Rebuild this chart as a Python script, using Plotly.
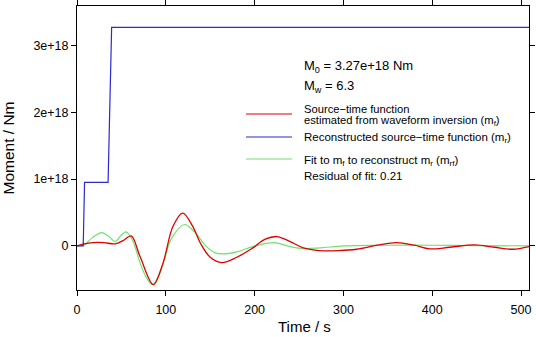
import plotly.graph_objects as go

# ---- data ----
blue_t = [0, 7, 8.5, 35, 39, 509]
blue_m = [0, 0, 0.95e18, 0.95e18, 3.27e18, 3.27e18]

red_t = [0, 8, 18, 30, 43, 52, 61, 71, 86, 97, 108, 119, 130, 139, 150, 163, 180, 198, 212,
         225, 240, 255, 273, 295, 315, 338, 360, 380, 397, 420, 448, 470, 491, 509]
red_m = [0, 0.03e18, 0.05e18, 0.05e18, 0.03e18, 0.08e18, 0.15e18, -0.16e18, -0.58e18, -0.25e18,
         0.29e18, 0.49e18, 0.3e18, 0.04e18, -0.17e18, -0.25e18, -0.17e18, -0.03e18, 0.1e18,
         0.14e18, 0.065e18, -0.03e18, -0.07e18, -0.07e18, -0.05e18, 0.01e18, 0.05e18, 0.01e18,
         -0.045e18, -0.02e18, 0.015e18, -0.02e18, -0.05e18, -0.01e18]

green_t = [0, 8, 17, 28, 36, 43, 49, 55, 62, 71, 78, 85, 95, 106, 121, 133, 145, 155, 165, 180,
           198, 221, 240, 255, 274, 300, 340, 400, 450, 509]
green_m = [0, 0.01e18, 0.12e18, 0.2e18, 0.14e18, 0.065e18, 0.15e18, 0.21e18, 0.1e18, -0.25e18,
           -0.47e18, -0.58e18, -0.35e18, 0.1e18, 0.32e18, 0.2e18, 0.0, -0.1e18, -0.12e18,
           -0.09e18, -0.01e18, 0.05e18, -0.01e18, -0.04e18, -0.03e18, 0.0, 0.01e18, 0.01e18,
           0.005e18, 0.0]

x_ticks = [0, 100, 200, 300, 400, 500]
y_ticks = [0, 1e18, 2e18, 3e18]
y_tick_labels = ["0", "1e+18", "2e+18", "3e+18"]

RED = "#e00000"
BLUE = "#2a2ad0"
GREEN = "#70e070"

fig = go.Figure()
fig.add_trace(go.Scatter(x=green_t, y=green_m, mode="lines", line=dict(color=GREEN, width=1.2, shape="spline", smoothing=1)))
fig.add_trace(go.Scatter(x=red_t, y=red_m, mode="lines", line=dict(color=RED, width=1.3, shape="spline", smoothing=1)))
fig.add_trace(go.Scatter(x=blue_t, y=blue_m, mode="lines", line=dict(color=BLUE, width=1.2)))

W, H = 536, 337
L, R, T, B = 77, 7, 6, 47
pw, ph = W - L - R, H - T - B

def px(x):
    return (x - L) / pw

def py(y):
    return (H - B - y) / ph

font = dict(family="Liberation Sans, Arial, sans-serif", color="black")

texts = [
    (302, 66, "M<sub>0</sub> = 3.27e+18 Nm", 13),
    (302, 87, "M<sub>w</sub> = 6.3", 13),
    (302, 108.8, "Source\u2212time function", 11.2),
    (302, 121.2, "estimated from waveform inversion (m<sub>f</sub>)", 11.2),
    (302, 138, "Reconstructed source\u2212time function (m<sub>r</sub>)", 11.5),
    (302, 161, "Fit to m<sub>f</sub> to reconstruct m<sub>r</sub> (m<sub>rf</sub>)", 11.5),
    (302, 176.5, "Residual of fit: 0.21", 11.5),
]
for x, y, t, s in texts:
    fig.add_annotation(x=px(x), y=py(y), xref="paper", yref="paper", text=t, showarrow=False,
                       xanchor="left", yanchor="middle", font=dict(size=s, **font))

# x-axis title
fig.add_annotation(x=px(304.5), y=py(337), xref="paper", yref="paper", text="Time / s", showarrow=False,
                   xanchor="center", yanchor="bottom", font=dict(size=15, **font))

for y, c in [(114, RED), (137, BLUE), (159, GREEN)]:
    fig.add_shape(type="line", xref="paper", yref="paper", x0=px(246), x1=px(292), y0=py(y), y1=py(y),
                  line=dict(color=c, width=1.2))

axis_common = dict(showline=True, linecolor="black", linewidth=1, mirror="ticks", ticks="outside",
                   ticklen=5, tickcolor="black", showgrid=False, zeroline=False, automargin=False,
                   tickfont=dict(size=12.5, **font))

fig.update_layout(
    width=W, height=H, margin=dict(l=L, r=R, t=T, b=B),
    paper_bgcolor="white", plot_bgcolor="white", showlegend=False,
    font=font,
    xaxis=dict(range=[0, 509], tickvals=x_ticks, ticklabelstandoff=3, **axis_common),
    yaxis=dict(range=[-0.66e18, 3.59e18], tickvals=y_ticks, ticktext=y_tick_labels,
               title=dict(text="Moment / Nm", font=dict(size=15.5, **font), standoff=14), **axis_common),
)

fig.write_html("out.html")
